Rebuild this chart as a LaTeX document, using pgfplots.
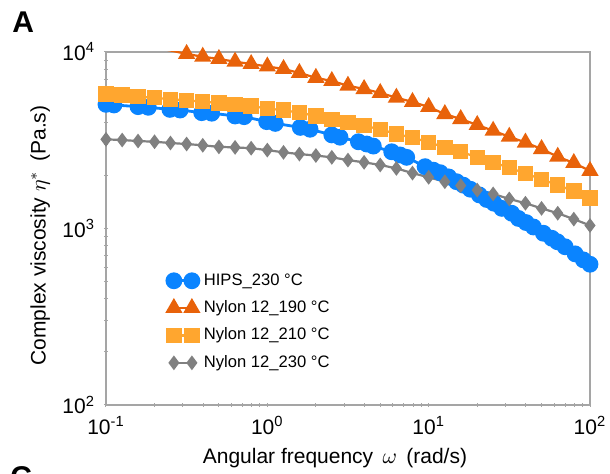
\documentclass[border=0pt]{standalone}
\usepackage{fontspec}
\setmainfont{Liberation Sans}
\usepackage{pgfplots}
\pgfplotsset{compat=1.18}
\definecolor{cblue}{RGB}{10,132,255}
\definecolor{corange}{RGB}{232,98,10}
\definecolor{cyellow}{RGB}{255,166,47}
\definecolor{cgray}{RGB}{128,128,128}
\definecolor{caxis}{RGB}{165,165,165}
\begin{document}
\begin{tikzpicture}
\useasboundingbox (-53pt,-34.5pt) rectangle (252pt,202.5pt);
\node[anchor=north west,inner sep=0pt,font=\fontsize{15}{15}\selectfont\bfseries] at (-47pt,197pt) {A};
\node[anchor=north west,inner sep=0pt,font=\fontsize{15}{15}\selectfont\bfseries] at (-48pt,-30.5pt) {C};
\begin{axis}[
  scale only axis,
  width=242pt, height=176.5pt,
  xmode=log, ymode=log,
  xmin=0.1, xmax=100, ymin=100, ymax=10000,
  axis line style={caxis, line width=0.8pt},
  every tick/.style={caxis, line width=0.5pt},
  major tick length=2pt, minor tick length=2pt,
  tick align=center,
  xtick pos=bottom, ytick pos=left,
  xtick={0.1,1,10,100},
  xticklabels={10\textsuperscript{-1},10\textsuperscript{0},10\textsuperscript{1},10\textsuperscript{2}},
  ytick={100,1000,10000},
  yticklabels={10\textsuperscript{2},10\textsuperscript{3},10\textsuperscript{4}},
  minor ytick={200,300,400,500,600,700,800,900,2000,3000,4000,5000,6000,7000,8000,9000},
  ticklabel style={font=\fontsize{10.5}{12}\selectfont},
  xticklabel style={yshift=-1pt},
  yticklabel style={xshift=-1pt},
  every axis x label/.style={at={(axis description cs:0.473,-0.15)},anchor=center,font=\fontsize{10.5}{12}\selectfont},
  every axis y label/.style={at={(axis description cs:-0.136,0.48)},rotate=90,anchor=center,font=\fontsize{10.5}{12}\selectfont},
  xlabel={Angular frequency \,$\omega$\, (rad/s)},
  ylabel={Complex viscosity $\eta^{*}$ \,(Pa.s)},
  legend style={at={(axis description cs:0.125,0.385)},anchor=north west,draw=none,fill=none,
    font=\fontsize{8.3}{9}\selectfont,inner sep=0pt,row sep=2.2pt,
    nodes={inner xsep=2.5pt}},
  legend cell align=left,
  legend image code/.code={\draw[#1] plot coordinates {(0pt,0pt) (9pt,0pt)};},
]
% HIPS 230 C
\addplot[cblue, line width=1.4pt, mark=*, mark size=3.5pt, mark options={solid,fill=cblue,draw=cblue}] coordinates {
(0.1,5050) (0.112,5010) (0.158,4900) (0.183,4860) (0.249,4730) (0.288,4690)
(0.392,4530) (0.452,4500) (0.631,4340) (0.718,4300) (0.991,4030) (1.12,3940)
(1.60,3740) (1.84,3650) (2.51,3390) (2.82,3290) (3.67,3100) (4.13,3010)
(4.54,2930) (5.90,2720) (6.65,2610) (7.31,2530) (9.50,2240) (10.7,2140)
(11.8,2070) (13.3,1960) (14.9,1840) (16.4,1760) (18.1,1670) (20.6,1550)
(22.9,1460) (25.4,1390) (28.4,1300) (32.7,1220) (36.0,1140) (40.2,1080)
(44.6,1020) (51.4,940) (58.0,880) (62.8,841) (70.1,788) (80.9,718)
(91.0,664) (100,627)
};
\addlegendentry{HIPS\_230 °C}
% Nylon 12 190 C
\addplot[corange, line width=1.1pt, mark=triangle*, mark size=3.9pt, mark options={solid,fill=corange,draw=corange}] coordinates {
(0.1,12000) (0.126,11500) (0.158,11000) (0.200,10600) (0.251,10200)
(0.316,9750) (0.398,9400) (0.501,9130) (0.631,8810) (0.794,8550)
(1.00,8280) (1.26,8010) (1.58,7610) (2.00,7140) (2.51,6850)
(3.16,6440) (3.98,6170) (5.01,5860) (6.31,5510) (7.94,5210)
(10.0,4880) (12.6,4450) (15.8,4170) (20.0,3860) (25.1,3580)
(31.6,3310) (39.8,3070) (50.1,2820) (63.1,2550) (79.4,2350) (100,2120)
};
\addlegendentry{Nylon 12\_190 °C}
% Nylon 12 210 C
\addplot[cyellow, line width=1.1pt, mark=square*, mark size=3.3pt, mark options={solid,fill=cyellow,draw=cyellow}] coordinates {
(0.1,5780) (0.126,5710) (0.158,5580) (0.200,5510) (0.251,5400)
(0.316,5330) (0.398,5230) (0.501,5140) (0.631,5050) (0.794,4940)
(1.00,4780) (1.26,4680) (1.58,4530) (2.00,4340) (2.51,4150)
(3.16,4000) (3.98,3820) (5.01,3650) (6.31,3430) (7.94,3270)
(10.0,3080) (12.6,2880) (15.8,2720) (20.0,2530) (25.1,2370)
(31.6,2210) (39.8,2050) (50.1,1900) (63.1,1760) (79.4,1630) (100,1490)
};
\addlegendentry{Nylon 12\_210 °C}
% Nylon 12 230 C
\addplot[cgray, line width=1.1pt, mark=diamond*, mark size=2.8pt, mark options={solid,fill=cgray,draw=cgray}] coordinates {
(0.1,3200) (0.126,3170) (0.158,3130) (0.200,3100) (0.251,3050)
(0.316,3010) (0.398,2960) (0.501,2900) (0.631,2880) (0.794,2850)
(1.00,2780) (1.26,2700) (1.58,2640) (2.00,2590) (2.51,2530)
(3.16,2440) (3.98,2370) (5.01,2290) (6.31,2190) (7.94,2060)
(10.0,1950) (12.6,1840) (15.8,1750) (20.0,1650) (25.1,1570)
(31.6,1470) (39.8,1390) (50.1,1300) (63.1,1220) (79.4,1130) (100,1040)
};
\addlegendentry{Nylon 12\_230 °C}
\end{axis}
\end{tikzpicture}
\end{document}
